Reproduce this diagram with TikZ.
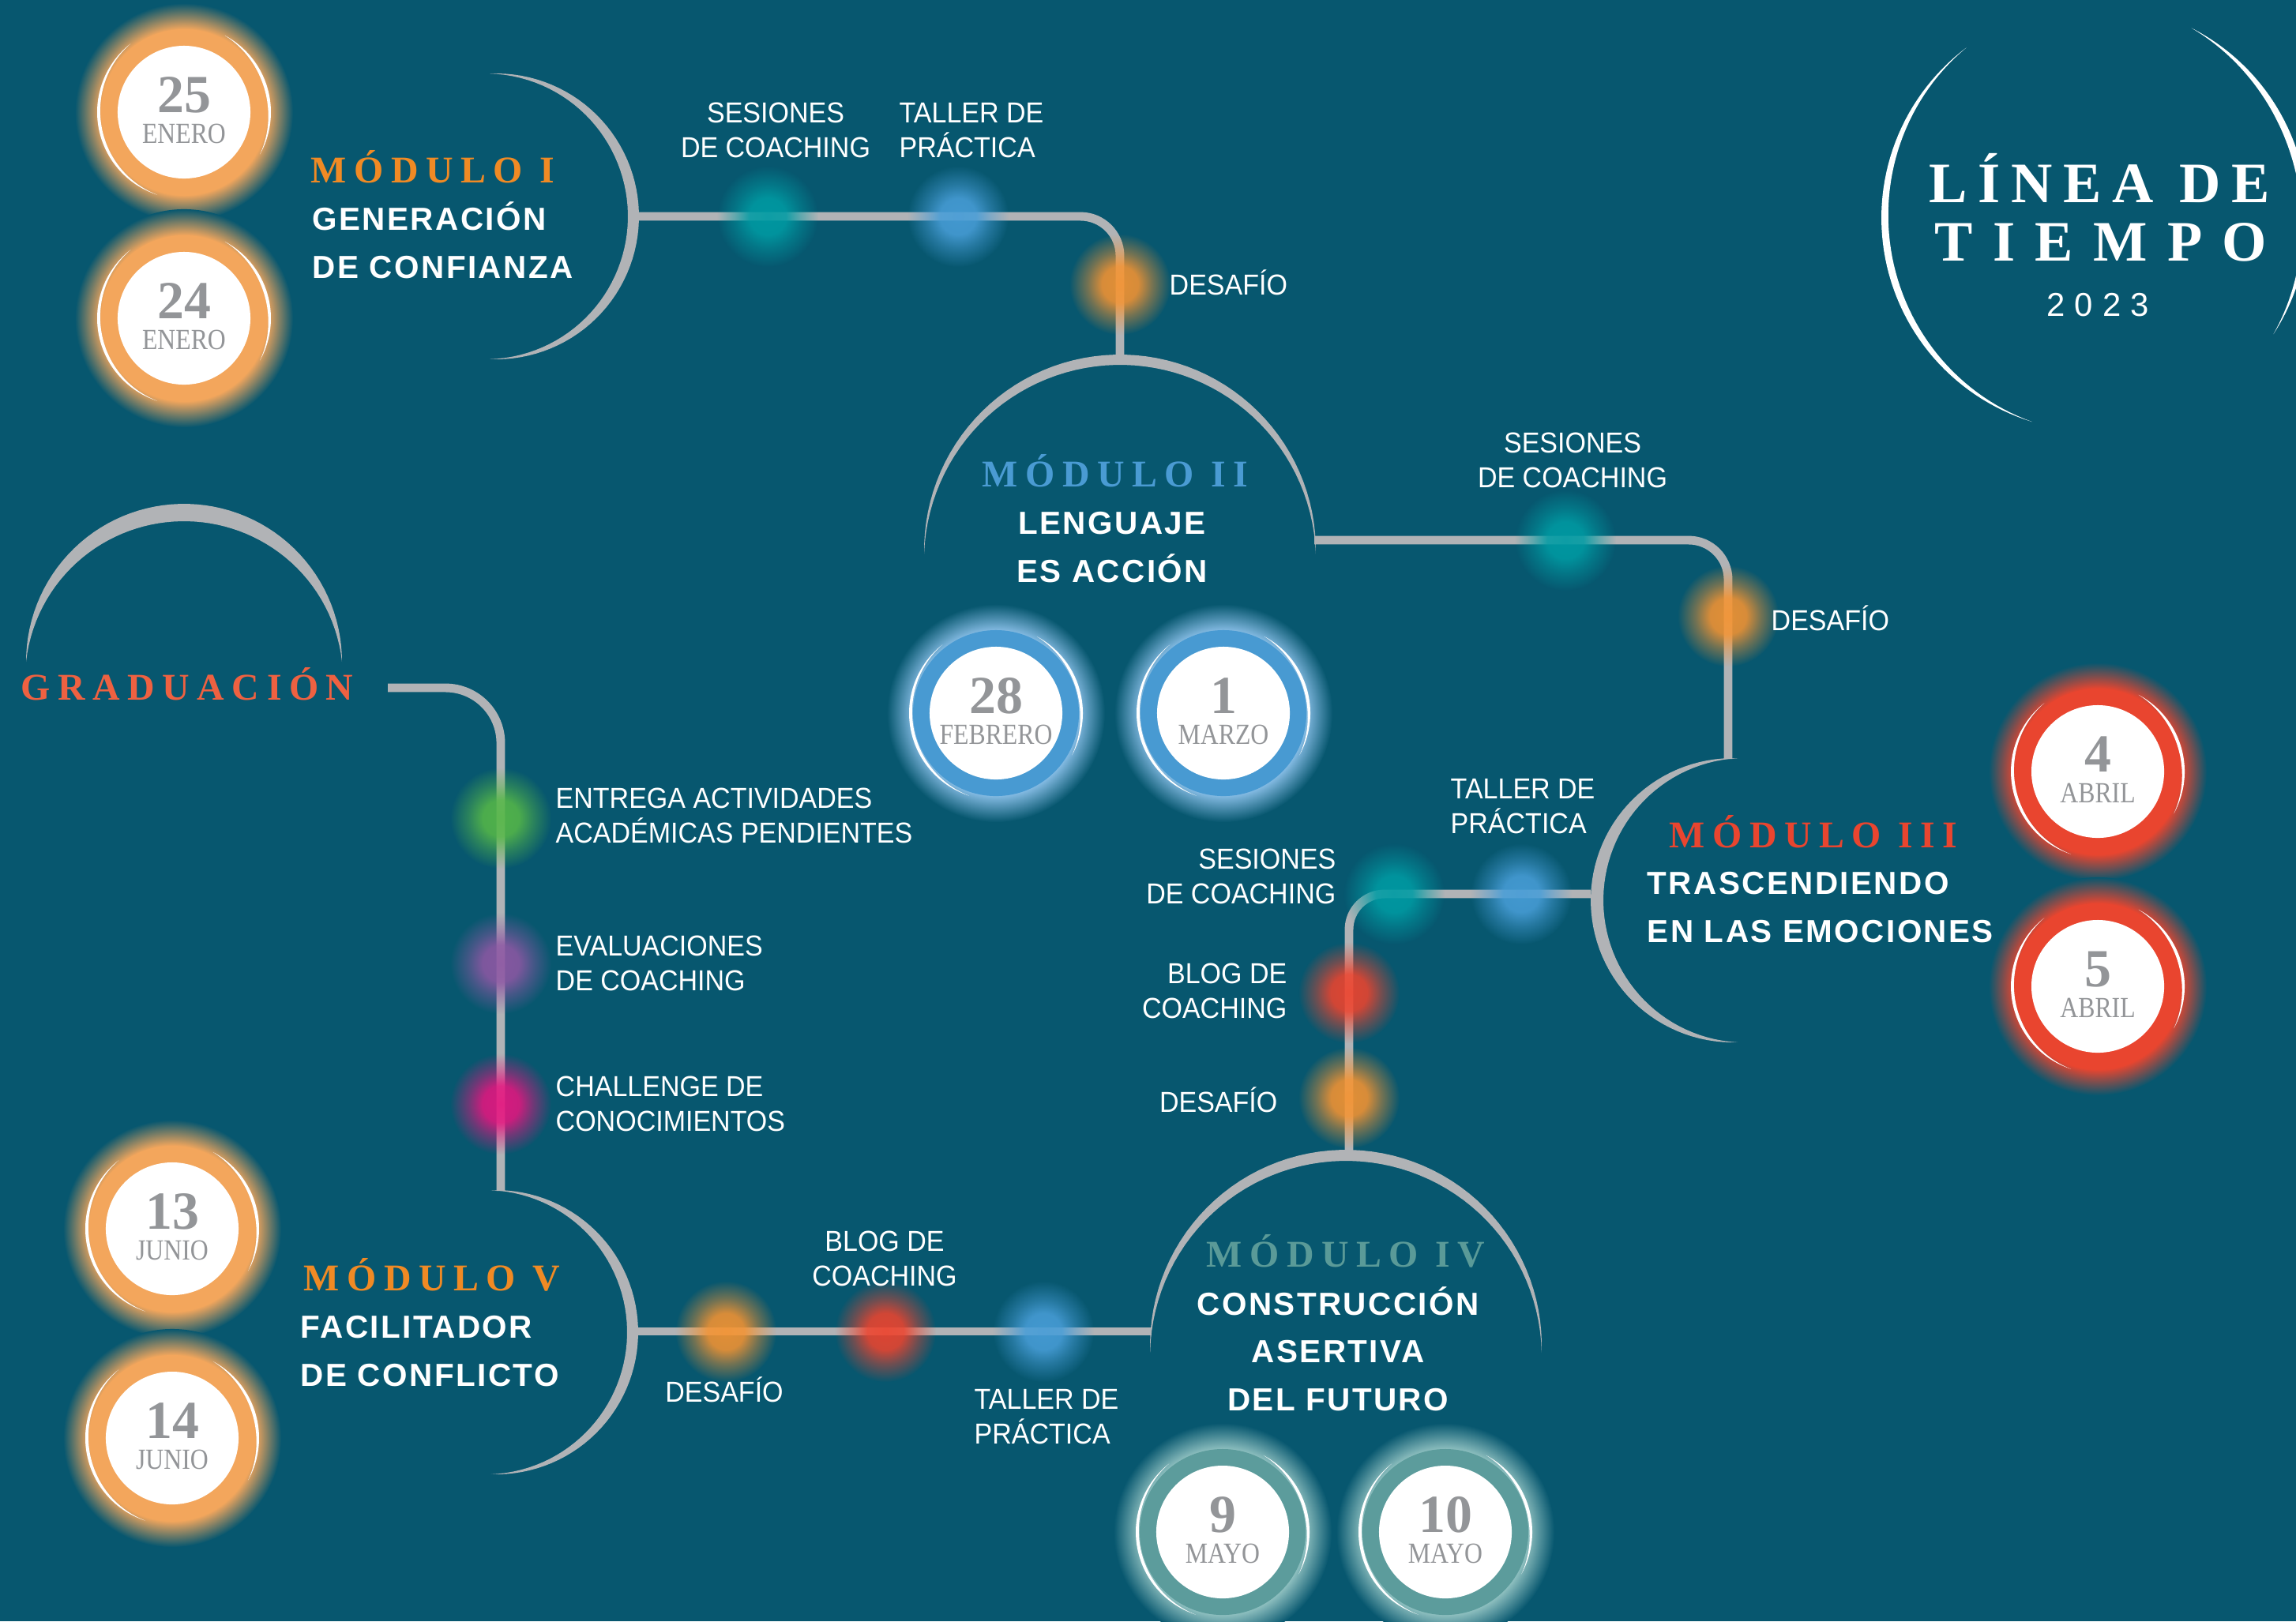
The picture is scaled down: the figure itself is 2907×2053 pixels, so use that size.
\documentclass[tikz,border=0pt]{standalone}
\usepackage{fontspec}
\usetikzlibrary{fadings}
\setmainfont{Liberation Serif}
\newfontfamily\titlefont{Liberation Serif}[LetterSpace=19]
\newfontfamily\headfont{Liberation Serif}[LetterSpace=20]
\newfontfamily\monthfont{Liberation Serif}[FakeStretch=0.86]
\newfontfamily\subfont{Liberation Sans}[LetterSpace=6]
\newfontfamily\tagfont{Liberation Sans}[FakeStretch=0.93]

\definecolor{bgblue}{RGB}{7,87,111}
\definecolor{linegray}{RGB}{177,179,182}
\definecolor{ringorange}{RGB}{243,166,92}
\definecolor{ringblue}{RGB}{72,154,210}
\definecolor{ringred}{RGB}{233,69,47}
\definecolor{ringteal}{RGB}{92,156,156}
\definecolor{glowblue}{RGB}{130,185,225}
\definecolor{glowteal}{RGB}{140,190,190}
\definecolor{headorange}{RGB}{240,138,36}
\definecolor{headblue}{RGB}{74,155,211}
\definecolor{headred}{RGB}{233,69,47}
\definecolor{headteal}{RGB}{90,154,152}
\definecolor{gradred}{RGB}{238,97,65}
\definecolor{daygray}{RGB}{147,149,152}
\definecolor{dotteal}{RGB}{0,156,164}
\definecolor{dotblue}{RGB}{72,158,216}
\definecolor{dotorange}{RGB}{245,148,50}
\definecolor{dotred}{RGB}{238,68,46}
\definecolor{dotgreen}{RGB}{86,184,72}
\definecolor{dotpurple}{RGB}{142,88,164}
\definecolor{dotpink}{RGB}{230,22,128}
\colorlet{halocol}{ringorange}

\pgfdeclareradialshading[halocol]{halo}{\pgfpoint{0bp}{0bp}}{color(0bp)=(halocol); color(19bp)=(halocol); color(25bp)=(bgblue); color(50bp)=(bgblue)}
\pgfdeclareradialshading{sparkmask}{\pgfpoint{0bp}{0bp}}{color(0bp)=(white); color(9bp)=(white!95!black); color(16bp)=(white!50!black); color(25bp)=(black); color(50bp)=(black)}
\pgfdeclarefading{sparkfade}{\pgfuseshading{sparkmask}}

\tikzset{
	track/.style={draw=linegray, line width=3.1pt, rounded corners=#1},
	track/.default=0pt,
	disc/.style={circle, fill=white, minimum size=1.68cm, inner sep=0pt},
	daynum/.style={text=daygray, font=\bfseries\fontsize{19.3}{20}\selectfont, inner sep=0pt, anchor=base},
	daymon/.style={text=daygray, font=\monthfont\fontsize{10.5}{12}\selectfont, inner sep=0pt, anchor=base},
	modhead/.style={font=\headfont\bfseries\fontsize{13.6}{16}\selectfont, inner sep=0pt},
	modsub/.style={text=white, font=\subfont\bfseries\fontsize{11.5}{17.1}\selectfont, inner sep=0pt},
	lbl/.style={text=white, font=\tagfont\fontsize{10.4}{12.4}\selectfont, inner sep=0pt}
}

% crescent: [colour] cx, cy, r, from angle, to angle, thickness
\newcommand{\moon}[7][linegray]{%
	\fill[#1] plot[domain=#5:#6, samples=60, variable=\t] ({#2+#4*cos(\t)},{#3+#4*sin(\t)})
		-- plot[domain=#6:#5, samples=60, variable=\t] ({#2+(#4-#7*sin((\t-(#5))/((#6)-(#5))*180))*cos(\t)},{#3+(#4-#7*sin((\t-(#5))/((#6)-(#5))*180))*sin(\t)}) -- cycle;}

% date badge: name, x, y, ring, glow, day, month
\newcommand{\datebadge}[7]{%
	\colorlet{halocol}{#5}
	\shade[shading=halo] (#2,#3) circle (1.38cm);
	\fill[#4] (#2,#3) circle (1.05cm);
	\moon[white]{#2}{#3}{110}{108}{232}{4}
	\moon[white]{#2}{#3}{110}{-62}{29}{4}
	\node[disc] (#1) at (#2,#3) {};
	\node[daynum] (#1-day) at (#2,#3) {#6};
	\node[daymon] (#1-mon) at (#2,{#3+39}) {#7};}

\newcommand{\spark}[2]{\fill[#2, fill opacity=.92, path fading=sparkfade] (#1) circle (0.64cm);}

\begin{document}
\begin{tikzpicture}[x=0.01cm, y=-0.01cm]
	\fill[bgblue] (0,0) rectangle (2907,2053);
	\useasboundingbox (0,0) rectangle (2907,2053);
	\clip (0,0) rectangle (2907,2053);

	% title
	\moon[white]{2652}{276}{270}{107}{233}{9}
	\moon[white]{2652}{276}{270}{-63}{33}{9}
	\node[text=white, inner sep=0pt, anchor=base, font=\titlefont\bfseries\fontsize{20.6}{24}\selectfont] (ttl1) at (2658,256) {LÍNEA DE};
	\node[text=white, inner sep=0pt, anchor=base, font=\titlefont\bfseries\addfontfeature{LetterSpace=35}\fontsize{20.6}{24}\selectfont] (ttl2) at (2660,330) {TIEMPO};
	\node[text=white, inner sep=0pt, anchor=base, font=\subfont\addfontfeature{LetterSpace=29}\fontsize{11.9}{14}\selectfont] (ttl3) at (2656,400) {2023};

	% arcs
	\moon{628}{274}{181}{-92.5}{92.5}{14}
	\moon{1418}{697}{248}{179}{361}{13}
	\moon{2194}{1140}{180}{88}{272}{16}
	\moon{1704}{1704}{248}{178}{362}{14}
	\moon{628}{1687}{180}{-92}{92}{14}
	\moon{233}{838}{200}{180}{360}{22}

	\coordinate (m1e) at (809,274);
	\coordinate (m2t) at (1418,449);
	\coordinate (m2e) at (1664,684);
	\coordinate (m3t) at (2188,961);
	\coordinate (m3w) at (2014,1132);
	\coordinate (m4t) at (1708,1457);
	\coordinate (m4w) at (1458,1686);
	\coordinate (m5e) at (808,1686);
	\coordinate (m5t) at (634,1508);
	\coordinate (gradend) at (491,871);

	\draw[track=0.5cm] (m1e) -| (m2t);
	\draw[track=0.5cm] (m2e) -| (m3t);
	\draw[track=0.45cm] (m3w) -| (m4t);
	\draw[track] (m4w) -- (m5e);
	\draw[track=0.7cm] (gradend) -| (m5t);

	% dots
	\coordinate (d1a) at (972,274);
	\coordinate (d1b) at (1213,274);
	\coordinate (d1c) at (1418,360);
	\coordinate (d2a) at (1982,684);
	\coordinate (d2b) at (2188,780);
	\coordinate (d3a) at (1926,1132);
	\coordinate (d3b) at (1765,1132);
	\coordinate (d3c) at (1708,1257);
	\coordinate (d3d) at (1708,1390);
	\coordinate (d5a) at (919,1686);
	\coordinate (d5b) at (1121,1686);
	\coordinate (d5c) at (1321,1686);
	\coordinate (dga) at (634,1036);
	\coordinate (dgb) at (634,1220);
	\coordinate (dgc) at (634,1398);
	\spark{d1a}{dotteal}
	\spark{d1b}{dotblue}
	\spark{d1c}{dotorange}
	\spark{d2a}{dotteal}
	\spark{d2b}{dotorange}
	\spark{d3a}{dotblue}
	\spark{d3b}{dotteal}
	\spark{d3c}{dotred}
	\spark{d3d}{dotorange}
	\spark{d5a}{dotorange}
	\spark{d5b}{dotred}
	\spark{d5c}{dotblue}
	\spark{dga}{dotgreen}
	\spark{dgb}{dotpurple}
	\spark{dgc}{dotpink}

	% dates
	\datebadge{ene25}{233}{142}{ringorange}{ringorange}{25}{ENERO}
	\datebadge{ene24}{233}{403}{ringorange}{ringorange}{24}{ENERO}
	\datebadge{feb28}{1261}{903}{ringblue}{glowblue}{28}{FEBRERO}
	\datebadge{mar1}{1549}{903}{ringblue}{glowblue}{1}{MARZO}
	\datebadge{abr4}{2656}{977}{ringred}{ringred}{4}{ABRIL}
	\datebadge{abr5}{2656}{1249}{ringred}{ringred}{5}{ABRIL}
	\datebadge{may9}{1548}{1940}{ringteal}{glowteal}{9}{MAYO}
	\datebadge{may10}{1830}{1940}{ringteal}{glowteal}{10}{MAYO}
	\datebadge{jun13}{218}{1556}{ringorange}{ringorange}{13}{JUNIO}
	\datebadge{jun14}{218}{1821}{ringorange}{ringorange}{14}{JUNIO}

	% modules (multi-line nodes sit on their last line)
	\node[modhead, text=headorange, anchor=base west] (m1head) at (393,231) {MÓDULO I};
	\node[modsub, align=left, anchor=base west] (m1sub) at (395,352) {GENERACIÓN\\DE CONFIANZA};
	\node[modhead, text=headblue, anchor=base] (m2head) at (1412,616) {MÓDULO II};
	\node[modsub, align=center, anchor=base] (m2sub) at (1408,737) {LENGUAJE\\ES ACCIÓN};
	\node[modhead, text=headred, anchor=base west] (m3head) at (2113,1073) {MÓDULO III};
	\node[modsub, align=left, anchor=base west] (m3sub) at (2085,1193) {TRASCENDIENDO\\EN LAS EMOCIONES};
	\node[modhead, text=headteal, anchor=base] (m4head) at (1704,1604) {MÓDULO IV};
	\node[modsub, align=center, anchor=base] (m4sub) at (1694,1786) {CONSTRUCCIÓN\\ASERTIVA\\DEL FUTURO};
	\node[modhead, text=headorange, anchor=base west] (m5head) at (384,1634) {MÓDULO V};
	\node[modsub, align=left, anchor=base west] (m5sub) at (380,1755) {FACILITADOR\\DE CONFLICTO};
	\node[modhead, text=gradred, anchor=base west] (grad) at (26,886) {GRADUACIÓN};

	% activities
	\node[lbl, align=center, anchor=base] (l1ses) at (982,199) {SESIONES\\DE COACHING};
	\node[lbl, align=left, anchor=base west] (l1tal) at (1138,199) {TALLER DE\\PRÁCTICA};
	\node[lbl, anchor=base west] (l1des) at (1480,373) {DESAFÍO};
	\node[lbl, align=center, anchor=base] (l2ses) at (1991,617) {SESIONES\\DE COACHING};
	\node[lbl, anchor=base west] (l2des) at (2242,798) {DESAFÍO};
	\node[lbl, align=left, anchor=base west] (l3tal) at (1836,1055) {TALLER DE\\PRÁCTICA};
	\node[lbl, align=right, anchor=base east] (l3ses) at (1692,1144) {SESIONES\\DE COACHING};
	\node[lbl, align=right, anchor=base east] (l3blog) at (1630,1289) {BLOG DE\\COACHING};
	\node[lbl, anchor=base east] (l3des) at (1618,1408) {DESAFÍO};
	\node[lbl, anchor=base] (l5des) at (917,1775) {DESAFÍO};
	\node[lbl, align=center, anchor=base] (l5blog) at (1120,1628) {BLOG DE\\COACHING};
	\node[lbl, align=left, anchor=base west] (l5tal) at (1233,1828) {TALLER DE\\PRÁCTICA};
	\node[lbl, align=left, anchor=base west] (lgent) at (703,1067) {ENTREGA ACTIVIDADES\\ACADÉMICAS PENDIENTES};
	\node[lbl, align=left, anchor=base west] (lgeva) at (703,1254) {EVALUACIONES\\DE COACHING};
	\node[lbl, align=left, anchor=base west] (lgcha) at (703,1432) {CHALLENGE DE\\CONOCIMIENTOS};
\end{tikzpicture}
\end{document}
